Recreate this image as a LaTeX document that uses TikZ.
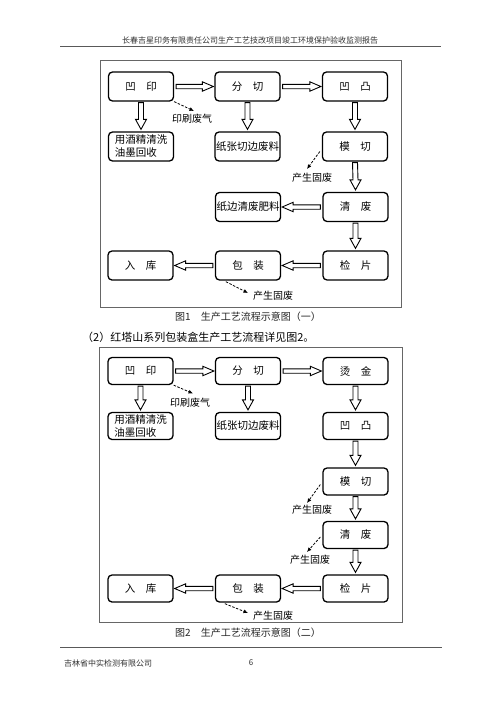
\documentclass[tikz,border=0pt]{standalone}
\usepackage{fontspec}
\setmainfont{Noto Sans CJK SC}
\usetikzlibrary{calc,arrows.meta}
\newcommand\hollowR[2]{%
  \draw[hollowarr] ($(#1.east)+(2,-2.2)$) -- ($(#2.west)+(-12,-2.2)$) -- ($(#2.west)+(-12,-4.7)$) -- ($(#2.west)+(-1,0)$) -- ($(#2.west)+(-12,4.7)$) -- ($(#2.west)+(-12,2.2)$) -- ($(#1.east)+(2,2.2)$) -- cycle;}
\newcommand\hollowL[2]{%
  \draw[hollowarr] ($(#1.west)+(-2,-2.2)$) -- ($(#2.east)+(12,-2.2)$) -- ($(#2.east)+(12,-4.7)$) -- ($(#2.east)+(1,0)$) -- ($(#2.east)+(12,4.7)$) -- ($(#2.east)+(12,2.2)$) -- ($(#1.west)+(-2,2.2)$) -- cycle;}
\newcommand\hollowD[2]{%
  \draw[hollowarr] ($(#1.south)+(-2.5,1)$) -- ($(#2.north)+(-2.5,-12)$) -- ($(#2.north)+(-5.5,-12)$) -- ($(#2.north)+(0,-2)$) -- ($(#2.north)+(5.5,-12)$) -- ($(#2.north)+(2.5,-12)$) -- ($(#1.south)+(2.5,1)$) -- cycle;}
\tikzset{
  box/.style={draw, line width=1.3pt, rounded corners=4pt, minimum width=65pt, inner sep=1pt, font=\fontsize{10.5}{13}\selectfont},
  boxA/.style={box, minimum height=29pt},
  boxB/.style={box, minimum height=27pt},
  hollowarr/.style={draw, line width=0.9pt, fill=white, line join=miter},
  dasharr/.style={draw, dashed, dash pattern=on 2.5pt off 1.5pt, line width=0.8pt, -{Latex[length=4.5pt,width=4pt]}},
  lbl/.style={inner sep=0pt, font=\fontsize{10}{12}\selectfont},
  frame/.style={draw=black!60, line width=0.9pt},
  rule/.style={draw=black!65, line width=0.9pt},
}
\begin{document}
\begin{tikzpicture}[x=1pt,y=-1pt]
\useasboundingbox[fill=white] (0,0) rectangle (500,707);
% header & footer
\node[inner sep=0pt, font=\fontsize{8}{10}\selectfont, text=black!80] (hdr) at (250,40) {长春吉星印务有限责任公司生产工艺技改项目竣工环境保护验收监测报告};
\draw[rule] (60,46) -- (441,46);
\draw[rule] (60,647) -- (442,647);
\node[anchor=west, inner sep=0pt, font=\fontsize{8}{10}\selectfont, text=black!80] (ftr) at (64,663) {吉林省中实检测有限公司};
\node[inner sep=0pt, font=\fontsize{8}{10}\selectfont, text=black!80] (pg) at (251,663) {6};
% ===== Figure 1 =====
\draw[frame] (100,60) rectangle (401,307);
\node[boxA] (a1) at (141,86.5) {凹\quad 印};
\node[boxA] (a2) at (247.5,86.5) {分\quad 切};
\node[boxA] (a3) at (355,86.5) {凹\quad 凸};
\node[boxA, align=left] (a4) at (141,146.5) {用酒精清洗\\油墨回收};
\node[boxA] (a5) at (247.5,146.5) {纸张切边废料};
\node[boxA] (a6) at (355,146.5) {模\quad 切};
\node[boxA] (a7) at (248,207) {纸边清废肥料};
\node[boxA] (a8) at (355.5,207) {清\quad 废};
\node[boxA] (a9) at (140.5,265.5) {入\quad 库};
\node[boxA] (a10) at (248,265.5) {包\quad 装};
\node[boxA] (a11) at (355.5,265.5) {检\quad 片};
\hollowR{a1}{a2}
\hollowR{a2}{a3}
\hollowD{a1}{a4}
\hollowD{a2}{a5}
\hollowD{a3}{a6}
\hollowD{a6}{a8}
\hollowL{a8}{a7}
\hollowD{a8}{a11}
\hollowL{a11}{a10}
\hollowL{a10}{a9}
\coordinate (e1) at (194,111);
\draw[dasharr] (a1.south east) -- (e1);
\node[lbl] (l1) at (192,119) {印刷废气};
\coordinate (e2) at (307,169);
\draw[dasharr] ($(a6.west)+(-2,5)$) -- (e2);
\node[lbl] (l2) at (312,177.5) {产生固废};
\coordinate (e3) at (248,293);
\draw[dasharr] ($(a10.south west)+(11,1)$) -- (e3);
\node[lbl] (l3) at (273,295.5) {产生固废};
\node[inner sep=0pt, font=\fontsize{10}{12}\selectfont, text=black!85] (cap1) at (248,317) {图1\quad 生产工艺流程示意图（一）};
\node[anchor=west, inner sep=0pt, font=\fontsize{11}{13}\selectfont] (para) at (82,337) {（2）红塔山系列包装盒生产工艺流程详见图2。};
% ===== Figure 2 =====
\draw[frame] (99,347) rectangle (402,622);
\node[boxB] (b1) at (140.5,371) {凹\quad 印};
\node[boxB] (b2) at (248,371) {分\quad 切};
\node[boxB] (b3) at (355.5,371) {烫\quad 金};
\node[boxB, align=left] (b4) at (140.5,426) {用酒精清洗\\油墨回收};
\node[boxB] (b5) at (248,426) {纸张切边废料};
\node[boxB] (b6) at (355.5,426) {凹\quad 凸};
\node[boxB] (b7) at (355.5,481.5) {模\quad 切};
\node[boxB] (b8) at (355.5,535) {清\quad 废};
\node[boxB] (b9) at (140.5,588.5) {入\quad 库};
\node[boxB] (b10) at (248,588.5) {包\quad 装};
\node[boxB] (b11) at (355.5,588.5) {检\quad 片};
\hollowR{b1}{b2}
\hollowR{b2}{b3}
\hollowD{b1}{b4}
\hollowD{b2}{b5}
\hollowD{b3}{b6}
\hollowD{b6}{b7}
\hollowD{b7}{b8}
\hollowD{b8}{b11}
\hollowL{b11}{b10}
\hollowL{b10}{b9}
\coordinate (f1) at (193,393.5);
\draw[dasharr] (b1.south east) -- (f1);
\node[lbl] (m1) at (190,402.5) {印刷废气};
\coordinate (f2) at (307,503);
\draw[dasharr] ($(b7.west)+(-2,3)$) -- (f2);
\node[lbl] (m2) at (312,509.5) {产生固废};
\coordinate (f3) at (307,552);
\draw[dasharr] ($(b8.west)+(-2,2)$) -- (f3);
\node[lbl] (m3) at (310,559.5) {产生固废};
\coordinate (f4) at (248,613);
\draw[dasharr] ($(b10.south west)+(10,1)$) -- (f4);
\node[lbl] (m4) at (273,615.5) {产生固废};
\node[inner sep=0pt, font=\fontsize{10}{12}\selectfont, text=black!85] (cap2) at (248,633) {图2\quad 生产工艺流程示意图（二）};
\end{tikzpicture}
\end{document}
